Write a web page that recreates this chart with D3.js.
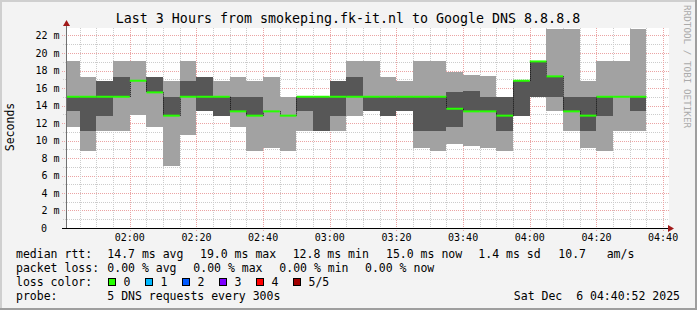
<!DOCTYPE html>
<html>
<head>
<meta charset="utf-8">
<script src="https://cdn.jsdelivr.net/npm/d3@7"></script>
<style>
html,body{margin:0;padding:0;background:#f3f3f3;}
svg text{font-family:"DejaVu Sans Mono",monospace;}
</style>
</head>
<body>
<svg id="chart" width="697" height="310"></svg>
<script>
// ---- data (ms) ----
const slotStarts = ["01:40","01:45","01:50","01:55","02:00","02:05","02:10","02:15","02:20","02:25","02:30","02:35","02:40","02:45","02:50","02:55","03:00","03:05","03:10","03:15","03:20","03:25","03:30","03:35","03:40","03:45","03:50","03:55","04:00","04:05","04:10","04:15","04:20","04:25","04:30"];
const ping1 = [11.5,8.76,11.04,11.04,12.87,11.5,7.04,10.58,13.33,12.84,11.5,8.76,9.14,8.76,11.04,11.04,11.04,12.84,13.33,12.84,13.33,9.14,8.76,9.63,9.33,9.14,8.76,12.84,15.0,13.33,11.04,9.14,8.76,11.04,11.04];
const ping2 = [13.33,11.04,12.84,15.0,16.83,15.5,12.84,15.0,13.33,12.84,13.33,12.84,13.33,12.84,13.33,11.04,12.84,15.0,13.33,12.84,13.33,11.04,11.04,11.5,13.33,13.33,11.04,12.84,15.0,15.0,13.33,11.04,12.84,15.0,13.33];
const median = [15.0,15.0,15.0,15.0,16.83,15.5,12.84,15.0,15.0,15.0,13.33,12.84,13.33,12.84,15.0,15.0,15.0,15.0,15.0,15.0,15.0,15.0,15.0,13.63,13.33,13.33,12.84,16.83,19.04,17.33,13.33,12.84,15.0,15.0,15.0];
const ping4 = [15.0,15.0,16.83,17.26,16.83,17.26,15.0,16.83,17.26,15.0,15.0,15.0,13.33,12.84,15.0,15.0,16.83,17.26,15.0,15.0,15.0,15.0,15.0,15.5,15.61,15.0,15.0,16.83,19.04,17.33,15.0,15.0,15.0,15.0,15.0];
const ping5 = [19.04,17.26,16.83,19.04,19.04,17.26,16.83,19.04,17.26,16.83,17.26,16.83,17.26,15.0,15.0,15.0,16.83,19.04,19.04,17.26,16.83,19.04,19.04,17.78,17.44,17.33,15.0,16.83,19.04,22.78,22.78,16.83,19.04,19.04,22.78];
const yTicks = [0,2,4,6,8,10,12,14,16,18,20,22];
const xTickLabels = ["02:00","02:20","02:40","03:00","03:20","03:40","04:00","04:20","04:40"];
const lossLabels = ["0","1","2","3","4","5/5"];
const lossColors = ["#26ff00","#00b8ff","#0059ff","#7e00ff","#ff0000","#a10000"];
const title = "Last 3 Hours from smokeping.fk-it.nl to Google DNS 8.8.8.8";

// ---- setup ----
const svg = d3.select("#chart");
const day = (hm, s=0) => { const [h,m] = hm.split(":").map(Number); return new Date(Date.UTC(2025,11,6,h,m,s)); };
const tStart = day("01:40", 52), tEnd = day("04:40", 52);
const x = d3.scaleUtc().domain([tStart, tEnd]).range([66, 666]);
const y = d3.scaleLinear().domain([0, 200/8.75]).range([228, 28]);
const X0 = 66, X1 = 666, Y0 = 228, YT = 28;

// background & frame
svg.append("rect").attr("width",697).attr("height",310).attr("fill","#f3f3f3");
svg.append("rect").attr("x",0).attr("y",0).attr("width",697).attr("height",2).attr("fill","#cfcfcf");
svg.append("rect").attr("x",0).attr("y",0).attr("width",2).attr("height",310).attr("fill","#cfcfcf");
svg.append("rect").attr("x",695).attr("y",0).attr("width",2).attr("height",310).attr("fill","#9e9e9e");
svg.append("rect").attr("x",0).attr("y",308).attr("width",697).attr("height",2).attr("fill","#9e9e9e");
svg.append("rect").attr("x",X0).attr("y",YT).attr("width",X1-X0+3).attr("height",Y0-YT).attr("fill","#ffffff");

// grid
const g = svg.append("g");
const minorY = d3.range(1, 23, 1).filter(v => v % 2 !== 0);
minorY.forEach(v => g.append("line").attr("x1",X0-3).attr("x2",X1+3).attr("y1",Math.round(y(v))+0.5).attr("y2",Math.round(y(v))+0.5)
  .attr("stroke","#cccccc").attr("stroke-dasharray","1,1"));
yTicks.filter(v=>v>0).forEach(v => g.append("line").attr("x1",X0-4).attr("x2",X1+3).attr("y1",Math.round(y(v))+0.5).attr("y2",Math.round(y(v))+0.5)
  .attr("stroke","#eba4a4").attr("stroke-dasharray","1,1"));
const minorX = d3.utcMinute.every(5).range(tStart, tEnd).filter(d => d.getUTCMinutes() % 20 !== 0);
minorX.forEach(d => g.append("line").attr("x1",Math.round(x(d))+0.5).attr("x2",Math.round(x(d))+0.5).attr("y1",YT).attr("y2",Y0+2)
  .attr("stroke","#cccccc").attr("stroke-dasharray","1,1"));
const majorX = xTickLabels.map(s => day(s));
majorX.forEach(d => g.append("line").attr("x1",Math.round(x(d))+0.5).attr("x2",Math.round(x(d))+0.5).attr("y1",YT).attr("y2",Y0+3)
  .attr("stroke","#eba4a4").attr("stroke-dasharray","1,1"));

// bars (smoke)
const slots = slotStarts.map((s,i) => {
  const a = day(s); const b = new Date(a.getTime() + 300000);
  return {a: a < tStart ? tStart : a, b, p1:ping1[i], p2:ping2[i], m:median[i], p4:ping4[i], p5:ping5[i]};
});
const data = svg.append("g");
data.selectAll("rect.light").data(slots).join("rect").attr("class","light")
  .attr("x", d => x(d.a)).attr("width", d => x(d.b)-x(d.a))
  .attr("y", d => y(d.p5)).attr("height", d => y(d.p1)-y(d.p5)).attr("fill","#a2a2a2").attr("shape-rendering","crispEdges");
data.selectAll("rect.dark").data(slots).join("rect").attr("class","dark")
  .attr("x", d => x(d.a)).attr("width", d => x(d.b)-x(d.a))
  .attr("y", d => y(d.p4)).attr("height", d => y(d.p2)-y(d.p4)).attr("fill","#575757").attr("shape-rendering","crispEdges");
// median step transitions
slots.forEach((d,i) => {
  if (i === 0 || d.m === slots[i-1].m) return;
  data.append("line").attr("x1",Math.round(x(d.a))+0.5).attr("x2",Math.round(x(d.a))+0.5)
    .attr("y1",y(slots[i-1].m)).attr("y2",y(d.m)).attr("stroke","#111").attr("stroke-dasharray","1,1");
});
data.selectAll("line.med").data(slots).join("line").attr("class","med")
  .attr("x1", d => x(d.a)).attr("x2", d => x(d.b)).attr("y1", d => y(d.m)).attr("y2", d => y(d.m))
  .attr("stroke","#26ff00").attr("stroke-width",2);

// axes
svg.append("line").attr("x1",X0+0.5).attr("x2",X0+0.5).attr("y1",Y0).attr("y2",24).attr("stroke","#707070");
svg.append("line").attr("x1",X0-4).attr("x2",X1+4).attr("y1",Y0+0.5).attr("y2",Y0+0.5).attr("stroke","#000");
svg.append("path").attr("d",`M${X0-3},26 L${X0+0.5},20 L${X0+4},26 Z`).attr("fill","#a11a1a");
svg.append("path").attr("d",`M${X1+2},225 L${X1+8},228.5 L${X1+2},232 Z`).attr("fill","#a11a1a");

// y labels
yTicks.forEach(v => svg.append("text").attr("x", v===0 ? 47 : 59.5).attr("y", y(v)+3.5).attr("text-anchor","end")
  .attr("font-size","10px").attr("fill","#000").text(v===0 ? "0" : v + " m"));
// x labels
majorX.forEach((d,i) => svg.append("text").attr("x", x(d)).attr("y", 241).attr("text-anchor","middle")
  .attr("font-size","10px").attr("fill","#000").text(xTickLabels[i]));

// title & side texts
svg.append("text").attr("x",348).attr("y",23).attr("text-anchor","middle").attr("font-size","13.3px").text(title);
svg.append("text").attr("transform","translate(14,127) rotate(-90)").attr("text-anchor","middle").attr("font-size","11.5px").text("Seconds");
svg.append("text").attr("transform","translate(684,5) rotate(90)").attr("text-anchor","start").attr("font-size","9.3px").attr("fill","#aaaaaa").text("RRDTOOL / TOBI OETIKER");

// legend
const fs = "11.5px";
const leg = (tx, ty, s) => svg.append("text").attr("x",tx).attr("y",ty).attr("font-size",fs).attr("xml:space","preserve").style("white-space","pre").text(s);
leg(16,258,"median rtt:");
leg(107.3,258,"14.7 ms avg"); leg(200,258,"19.0 ms max"); leg(292.7,258,"12.8 ms min");
leg(386,258,"15.0 ms now"); leg(478.3,258,"1.4 ms sd"); leg(558.3,258,"10.7"); leg(606.7,258,"am/s");
leg(16,272,"packet loss:");
leg(107.3,272,"0.00 % avg"); leg(193.3,272,"0.00 % max"); leg(279.3,272,"0.00 % min"); leg(365,272,"0.00 % now");
leg(16,286,"loss color:");
lossLabels.forEach((l,i) => {
  const bx = 108.5 + i*37;
  svg.append("rect").attr("x",bx).attr("y",278.5).attr("width",7).attr("height",7).attr("fill",lossColors[i]).attr("stroke","#000");
  leg(bx+15, 286, l);
});
leg(16,300,"probe:");
leg(107.3,300,"5 DNS requests every 300s");
svg.append("text").attr("x",680).attr("y",300).attr("text-anchor","end").attr("font-size",fs).style("white-space","pre").text("Sat Dec  6 04:40:52 2025");
</script>
</body>
</html>
